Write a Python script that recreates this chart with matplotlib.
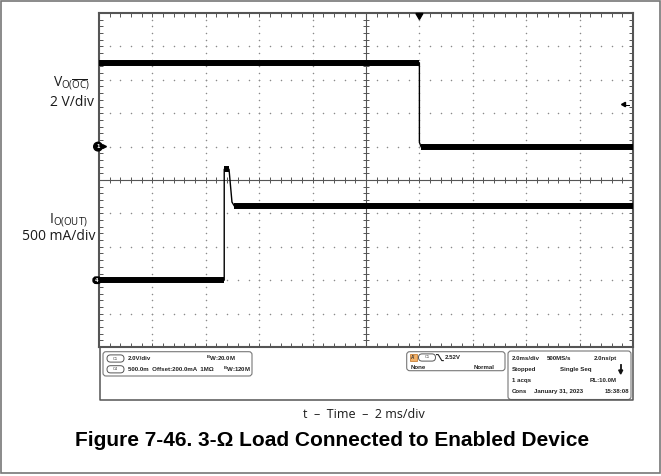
import matplotlib
matplotlib.use("Agg")
import matplotlib.pyplot as plt
from matplotlib.patches import FancyBboxPatch, Rectangle, Circle, Polygon
import numpy as np

# ---------------- data ----------------
# time axis relative to trigger, ms
v_time_ms = [-12.0, 0.0, 0.0, 0.06, 8.0]
v_out_V = [5.02, 5.02, 0.25, 0.0, 0.0]          # V_O(OC), volts

i_time_ms = [-12.0, -7.31, -7.31, -7.13, -7.02, -6.93, 8.0]
i_out_A = [0.0, 0.0, 1.66, 1.66, 1.17, 1.11, 1.11]   # I_O(OUT), amps

ch1_scale, ch1_pos = 2.0, 1.0      # V/div, div
ch4_scale, ch4_pos = 0.5, -3.0     # A/div, div
t_per_div = 2.0
t_left = -12.0
trig_level_V = 2.52

W, H, DPI = 661, 476, 100
plt.rcParams["mathtext.fontset"] = "custom"
plt.rcParams["mathtext.rm"] = "Open Sans"
plt.rcParams["mathtext.bf"] = "Liberation Sans:bold"

fig = plt.figure(figsize=(W / DPI, H / DPI), dpi=DPI)
fig.patch.set_facecolor("white")

# --------------- scope axes ---------------
L, T, R, B = 99, 13, 633, 347
ax = fig.add_axes([L / W, 1 - B / H, (R - L) / W, (B - T) / H])
x0, x1 = t_left, t_left + 10 * t_per_div
ax.set_xlim(x0, x1)
ax.set_ylim(-5, 5)
ax.set_xticks(np.arange(x0, x1 + 0.01, t_per_div))
ax.set_xticks(np.arange(x0, x1 + 0.01, t_per_div / 5), minor=True)
ax.set_yticks(np.arange(-5, 5.01, 1))
ax.set_yticks(np.arange(-5, 5.01, 0.2), minor=True)
ax.tick_params(which="both", direction="in", top=True, right=True,
               labelleft=False, labelbottom=False, length=2.9, width=0.7,
               color="#555555")
for s in ax.spines.values():
    s.set_color("#555555")
    s.set_linewidth(1.5)

xc = (x0 + x1) / 2
gx = [x0 + k * t_per_div for k in range(1, 10) if k != 5]
gy = [k for k in range(-4, 5) if k != 0]
ydots = np.arange(-5, 5.01, 0.2)
xdots = np.arange(x0, x1 + 0.01, t_per_div / 5)
for g in gx:
    ax.plot(np.full_like(ydots, g), ydots, ls="none", marker="o", ms=1.1,
            mew=0, color="#8a8a8a", zorder=1)
for g in gy:
    ax.plot(xdots, np.full_like(xdots, g), ls="none", marker="o", ms=1.1,
            mew=0, color="#8a8a8a", zorder=1)
# centre cross with ticks
ax.axhline(0, color="#555555", lw=0.8, zorder=1)
ax.axvline(xc, color="#555555", lw=0.8, zorder=1)
ax.vlines(xdots, -0.09, 0.09, color="#555555", lw=0.7, zorder=1)
ax.hlines(ydots, xc - 0.11, xc + 0.11, color="#555555", lw=0.7, zorder=1)


def draw_trace(t, v, scale, pos):
    t = np.asarray(t, float)
    y = np.asarray(v, float) / scale + pos
    ax.plot(t, y, color="black", lw=1.0, zorder=3, solid_joinstyle="round")
    for k in range(len(t) - 1):
        if y[k] == y[k + 1]:
            ax.plot(t[k:k + 2], y[k:k + 2], color="black", lw=4.3,
                    solid_capstyle="butt", zorder=3)


draw_trace(v_time_ms, v_out_V, ch1_scale, ch1_pos)
draw_trace(i_time_ms, i_out_A, ch4_scale, ch4_pos)

# --------------- overlay in pixel coordinates ---------------
ov = fig.add_axes([0, 0, 1, 1], zorder=5)
ov.set_xlim(0, W)
ov.set_ylim(H, 0)
ov.axis("off")
ov.patch.set_alpha(0)


def px_y(div):
    return T + (5 - div) * (B - T) / 10


def px_x(t):
    return L + (t - x0) / (x1 - x0) * (R - L)


ov.add_patch(Rectangle((1, 1), 659, 472, fill=False, ec="#777777", lw=1.2))

# channel markers
y1 = px_y(ch1_pos)
ov.add_patch(Circle((98, y1), 4.3, color="black", zorder=6))
ov.text(98, y1 + 0.3, "1", color="white", fontsize=3.6, fontweight="bold",
        ha="center", va="center", zorder=7)
ov.add_patch(Polygon([(102.5, y1 - 2), (106.5, y1), (102.5, y1 + 2)],
                     color="black", zorder=6))
y4 = px_y(ch4_pos)
ov.add_patch(FancyBboxPatch((93, y4 - 3.2), 8, 6.4,
                            boxstyle="round,pad=0,rounding_size=3",
                            color="black", zorder=6))
ov.text(96.5, y4 + 0.3, "4", color="white", fontsize=3.6, fontweight="bold",
        ha="center", va="center", zorder=7)

# trigger position & level markers
xt = px_x(0.0)
ov.add_patch(Polygon([(xt - 3.5, 13.5), (xt + 3.5, 13.5), (xt, 19.5)],
                     color="black", zorder=6))
yl = px_y(trig_level_V / ch1_scale + ch1_pos)
ov.add_patch(Polygon([(621.5, yl), (625.5, yl - 2.2), (625.5, yl + 2.2)],
                     color="black", zorder=6))
ov.plot([625, 629], [yl, yl], color="black", lw=0.7, zorder=6)

# side labels
lab = dict(fontsize=10, family="Open Sans", color="#1a1a1a", ha="right",
           va="center")
ov.text(89.5, 83.5, r"V$_{\mathrm{O(\overline{OC})}}$", **lab)
ov.text(94, 102, "2 V/div", **lab)
ov.text(88, 220.5, r"I$_{\mathrm{O(OUT)}}$", **lab)
ov.text(95, 236, "500 mA/div", **lab)

# info area frame
fc = "#555555"
ov.plot([100, 100, 633, 633], [347, 400, 400, 347], color=fc, lw=1.1)

info = dict(fontsize=4.4, family="Liberation Sans", fontweight="bold",
            color="#222222", va="center")
bx = "round,pad=0,rounding_size=3"
ov.add_patch(FancyBboxPatch((103, 351.7), 149, 24.3, boxstyle=bx, fill=False,
                            ec="#777777", lw=0.8))
ov.add_patch(FancyBboxPatch((406.7, 351.7), 98.3, 19, boxstyle=bx, fill=False,
                            ec="#777777", lw=0.8))
ov.add_patch(FancyBboxPatch((508, 351), 123, 48.5, boxstyle=bx, fill=False,
                            ec="#777777", lw=0.8))


def pill(xa, ya, label):
    ov.add_patch(FancyBboxPatch((xa, ya - 3.6), 17, 7.2,
                                boxstyle="round,pad=0,rounding_size=3.6",
                                fill=False, ec="#555555", lw=0.7))
    ov.text(xa + 8.5, ya, label, fontsize=2.8, family="Liberation Sans",
            color="#333333", ha="center", va="center")


pill(107, 358.5, "C1")
pill(107, 369.3, "C4")
ov.text(127.5, 358.5, "2.0V/div", **info)
ov.text(206, 358.5, r"$^{\mathbf{B}}$W:20.0M", **info)
ov.text(128, 369.3, "500.0m  Offset:200.0mA  1M\u03a9  ", **info)
ov.text(223, 369.3, r"$^{\mathbf{B}}$W:120M", **info)

ov.add_patch(Rectangle((410, 354.2), 7, 6.6, fc="#f4b36a", ec="#c07020",
                       lw=0.5))
ov.text(413.5, 357.6, "A'", fontsize=3.3, family="Liberation Sans",
        fontweight="bold", color="#333333", ha="center", va="center")
pill(418.5, 357.5, "C1")
ov.plot([436.5, 438.2, 441.8, 443.3], [354.6, 354.6, 360.6, 360.6],
        color="#222222", lw=0.8)
ov.text(445, 357.3, "2.52V", **info)
ov.text(411, 367.3, "None", **info)
ov.text(495, 367.3, "Normal", ha="right", **info)

rows = [358.3, 369.3, 380.7, 391.7]
ov.text(512, rows[0], "2.0ms/div", **info)
ov.text(546.5, rows[0], "500MS/s", **info)
ov.text(617, rows[0], "2.0ns/pt", ha="right", **info)
ov.text(512, rows[1], "Stopped", **info)
ov.text(559.5, rows[1], "Single Seq", **info)
ov.plot([620.7, 620.7], [364.8, 370.5], color="#111111", lw=1.3)
ov.add_patch(Polygon([(618.7, 370), (622.7, 370), (620.7, 374)],
                     color="#111111"))
ov.text(512, rows[2], "1 acqs", **info)
ov.text(616.5, rows[2], "RL:10.0M", ha="right", **info)
ov.text(512, rows[3], "Cons", **info)
ov.text(534, rows[3], "January 31, 2023", **info)
ov.text(629.5, rows[3], "15:38:08", ha="right", **info)

# captions
ov.text(364, 414.5, "t  \u2013  Time  \u2013  2 ms/div", fontsize=9,
        family="Open Sans", color="#1a1a1a", ha="center", va="center")
ov.text(332, 440, "Figure 7-46. 3-\u03a9 Load Connected to Enabled Device",
        fontsize=15, family="Liberation Sans", fontweight="bold",
        color="black", ha="center", va="center")

fig.savefig("out.png", dpi=DPI)
